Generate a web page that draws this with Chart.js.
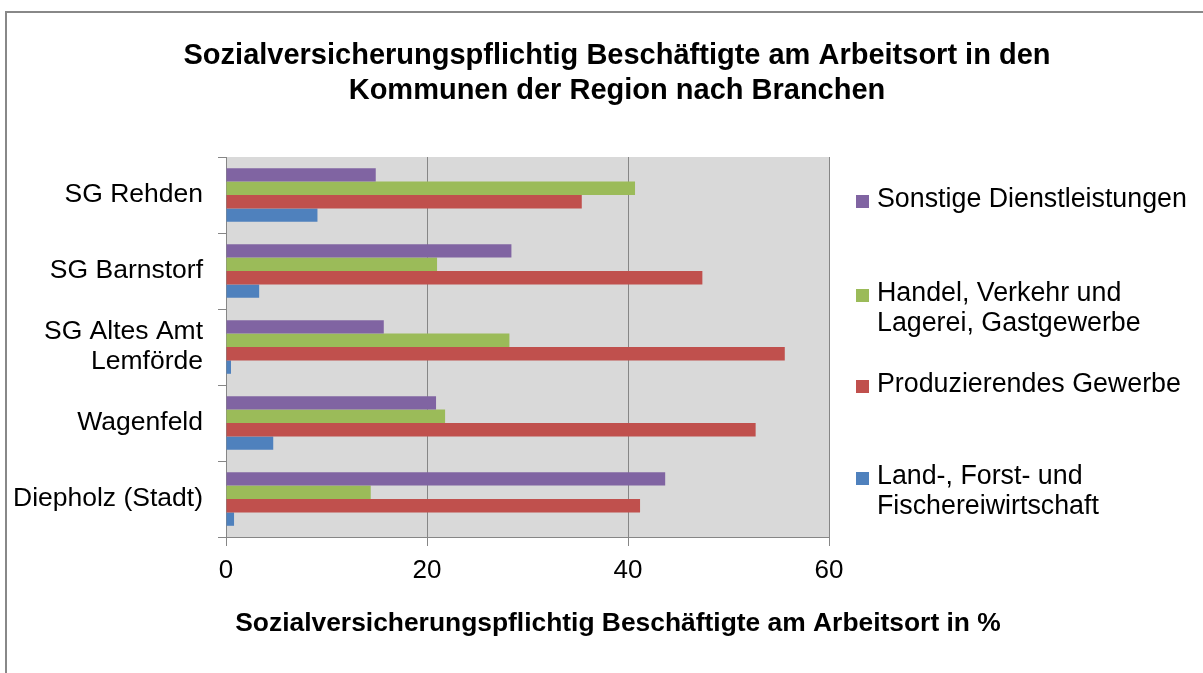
<!DOCTYPE html>
<html>
<head>
<meta charset="utf-8">
<script src="https://cdn.jsdelivr.net/npm/chart.js@4/dist/chart.umd.min.js"></script>
<style>
  html, body { margin: 0; padding: 0; background: #ffffff; }
  #wrap { position: absolute; left: 0; top: 0; width: 1203px; height: 673px; }
</style>
</head>
<body>
<div id="wrap"><canvas id="c" width="1203" height="673"></canvas></div>
<script>
const titleLines = ['Sozialversicherungspflichtig Beschäftigte am Arbeitsort in den', 'Kommunen der Region nach Branchen'];
const xAxisTitle = 'Sozialversicherungspflichtig Beschäftigte am Arbeitsort in %';
const categories = ['SG Rehden', 'SG Barnstorf', ['SG Altes Amt', 'Lemförde'], 'Wagenfeld', 'Diepholz (Stadt)'];
const seriesNames = ['Sonstige Dienstleistungen', 'Handel, Verkehr und Lagerei, Gastgewerbe', 'Produzierendes Gewerbe', 'Land-, Forst- und Fischereiwirtschaft'];
const sonstige = [14.9, 28.4, 15.7, 20.9, 43.7];
const handel = [40.7, 21.0, 28.2, 21.8, 14.4];
const produzierend = [35.4, 47.4, 55.6, 52.7, 41.2];
const landForst = [9.1, 3.3, 0.5, 4.7, 0.8];
const xTicks = [0, 20, 40, 60];

const colors = ['#8064A2', '#9BBB59', '#C0504D', '#4F81BD'];
const seriesValues = [sonstige, handel, produzierend, landForst];
const FONT = "'Liberation Sans', Arial, sans-serif";

const frame = {
  id: 'frame',
  beforeDraw(chart) {
    const ctx = chart.ctx, a = chart.chartArea;
    ctx.save();
    ctx.fillStyle = '#ffffff';
    ctx.fillRect(0, 0, chart.width, chart.height);
    ctx.strokeStyle = '#888888';
    ctx.lineWidth = 2;
    ctx.beginPath();
    ctx.moveTo(6, chart.height);
    ctx.lineTo(6, 12);
    ctx.lineTo(chart.width, 12);
    ctx.stroke();
    ctx.fillStyle = '#d9d9d9';
    ctx.fillRect(a.left, a.top, a.right - a.left, a.bottom - a.top);
    ctx.restore();
  }
};

const titleAndLegend = {
  id: 'titleAndLegend',
  afterDraw(chart) {
    const ctx = chart.ctx;
    ctx.save();
    ctx.fillStyle = '#000000';
    ctx.textAlign = 'center';
    ctx.textBaseline = 'middle';
    ctx.font = 'bold 29px ' + FONT;
    const tx = 617;
    titleLines.forEach((t, i) => ctx.fillText(t, tx, 56 + i * 35));

    // x axis title (full width, not clipped to the plot width)
    ctx.font = 'bold 26.4px ' + FONT;
    ctx.fillText(xAxisTitle, 618, 624);

    // legend
    ctx.font = '26.8px ' + FONT;
    ctx.textAlign = 'left';
    const firstLineY = [200, 294, 385, 477];
    const maxW = 330;
    seriesNames.forEach((name, i) => {
      const words = name.split(' ');
      const lines = [];
      let cur = '';
      words.forEach(w => {
        const test = cur ? cur + ' ' + w : w;
        if (ctx.measureText(test).width > maxW && cur) { lines.push(cur); cur = w; }
        else cur = test;
      });
      if (cur) lines.push(cur);
      const y0 = firstLineY[i];
      ctx.fillStyle = colors[i];
      ctx.fillRect(856, y0 - 5, 13, 13);
      ctx.fillStyle = '#000000';
      lines.forEach((ln, j) => ctx.fillText(ln, 877, y0 + j * 30));
    });
    ctx.restore();
  }
};

new Chart(document.getElementById('c'), {
  type: 'bar',
  data: {
    labels: categories,
    datasets: seriesNames.map((n, i) => ({
      label: n,
      data: seriesValues[i],
      backgroundColor: colors[i],
      borderWidth: 0,
      categoryPercentage: 0.705,
      barPercentage: 1.0
    }))
  },
  options: {
    indexAxis: 'y',
    responsive: false,
    devicePixelRatio: 1,
    animation: false,
    layout: { padding: { left: 0, right: 374, top: 157, bottom: 33 } },
    plugins: {
      legend: { display: false },
      title: { display: false },
      tooltip: { enabled: false }
    },
    scales: {
      x: {
        min: 0, max: 60,
        afterBuildTicks: (s) => { s.ticks = xTicks.map(v => ({ value: v })); },
        afterFit: (s) => { s.height = 103; },
        ticks: { color: '#000000', font: { family: FONT, size: 26 }, padding: 9, maxRotation: 0 },
        grid: { color: '#868686', lineWidth: 1, tickLength: 9, drawTicks: true },
        border: { color: '#868686', width: 1 },
        title: { display: false, text: xAxisTitle }
      },
      y: {
        afterFit: (s) => { s.width = 226; },
        ticks: { color: '#000000', font: { family: FONT, size: 26.5, lineHeight: 1.13 }, padding: 15 },
        grid: { display: true, drawOnChartArea: false, drawTicks: true, tickLength: 8, offset: true, color: '#868686' },
        border: { color: '#868686', width: 1 }
      }
    }
  },
  plugins: [frame, titleAndLegend]
});
</script>
</body>
</html>
